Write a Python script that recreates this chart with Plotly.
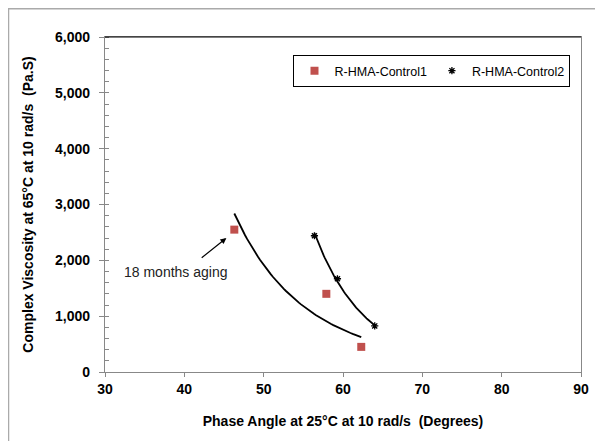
import numpy as np
import plotly.graph_objects as go

# values
control1_phase = [46.3, 57.9, 62.3]
control1_visc = [2550, 1400, 450]
control2_phase = [56.4, 59.3, 64.0]
control2_visc = [2440, 1670, 825]

x_ticks = [30, 40, 50, 60, 70, 80, 90]
y_ticks = [0, 1000, 2000, 3000, 4000, 5000, 6000]

FONT = 'Liberation Sans, Arial'


def power_trend(x, y):
    # Excel style power trendline: y = a * x^b
    b, ln_a = np.polyfit(np.log(x), np.log(y), 1)
    xs = np.linspace(min(x), max(x), 60)
    return xs, np.exp(ln_a) * xs ** b


fig = go.Figure()

for xs, ys in [(control1_phase, control1_visc), (control2_phase, control2_visc)]:
    tx, ty = power_trend(xs, ys)
    fig.add_trace(go.Scatter(x=tx, y=ty, mode='lines', line=dict(color='black', width=1.8),
                             showlegend=False, hoverinfo='skip'))

fig.add_trace(go.Scatter(x=control1_phase, y=control1_visc, mode='markers', name='R-HMA-Control1',
                         marker=dict(symbol='square', size=8, color='#C0504D')))
fig.add_trace(go.Scatter(x=control2_phase, y=control2_visc, mode='markers', name='R-HMA-Control2',
                         marker=dict(symbol='asterisk-open', size=6, color='black',
                                     line=dict(color='black', width=1.3))))

fig.add_annotation(x=45.3, y=2400, ax=42.0, ay=2025, axref='x', ayref='y',
                   showarrow=True, arrowhead=2, arrowsize=1, arrowwidth=1.2, arrowcolor='black',
                   text='')
fig.add_annotation(x=39.0, y=1790, text='18 months aging', showarrow=False,
                   font=dict(family=FONT, size=14, color='#222'))

# outer chart border (kept just inside the drawing area)
fig.add_shape(type='rect', xref='paper', yref='paper', x0=-0.2027, x1=1.06, y0=-0.25, y1=1.084,
              line=dict(color='#aaa', width=1.5), fillcolor='rgba(0,0,0,0)', layer='below')
# black top edge of the plot area
fig.add_shape(type='line', xref='paper', yref='paper', x0=0, x1=1, y0=1, y1=1,
              line=dict(color='black', width=1.2))

# page body has an 8px margin, so the figure is drawn 8px smaller
fig.update_layout(
    width=595, height=433,
    margin=dict(l=97, r=22, t=29, b=69, autoexpand=False),
    paper_bgcolor='white', plot_bgcolor='white',
    font=dict(family=FONT, size=12, color='black'),
    legend=dict(orientation='h', x=0.396, y=0.946, xanchor='left', yanchor='top',
                bordercolor='black', borderwidth=1, bgcolor='white',
                font=dict(size=12.5), itemwidth=30, tracegroupgap=0),
    xaxis=dict(range=[30, 90], tickvals=x_ticks, ticks='outside', ticklen=4, tickcolor='#888',
               showline=True, linecolor='#888', linewidth=1.2, mirror=True, showgrid=False,
               zeroline=False, automargin=False,
               tickfont=dict(size=14, weight='bold'),
               title=dict(text='Phase Angle at 25°C at 10 rad/s  (Degrees)', standoff=20,
                          font=dict(size=14, weight='bold'))),
    yaxis=dict(range=[0, 6000], tickvals=y_ticks, tickformat=',', ticks='outside', ticklen=5,
               tickcolor='#888', showline=True, linecolor='#888', linewidth=1.2, mirror=True,
               showgrid=False, zeroline=False, automargin=False, ticklabelstandoff=6,
               tickfont=dict(size=14, weight='bold'),
               minor=dict(dtick=200, ticks='inside', ticklen=4, tickcolor='#888'),
               title=dict(text='Complex Viscosity at 65°C at 10 rad/s  (Pa.S)', standoff=18,
                          font=dict(size=14, weight='bold'))),
)

fig.write_html('out.html')
